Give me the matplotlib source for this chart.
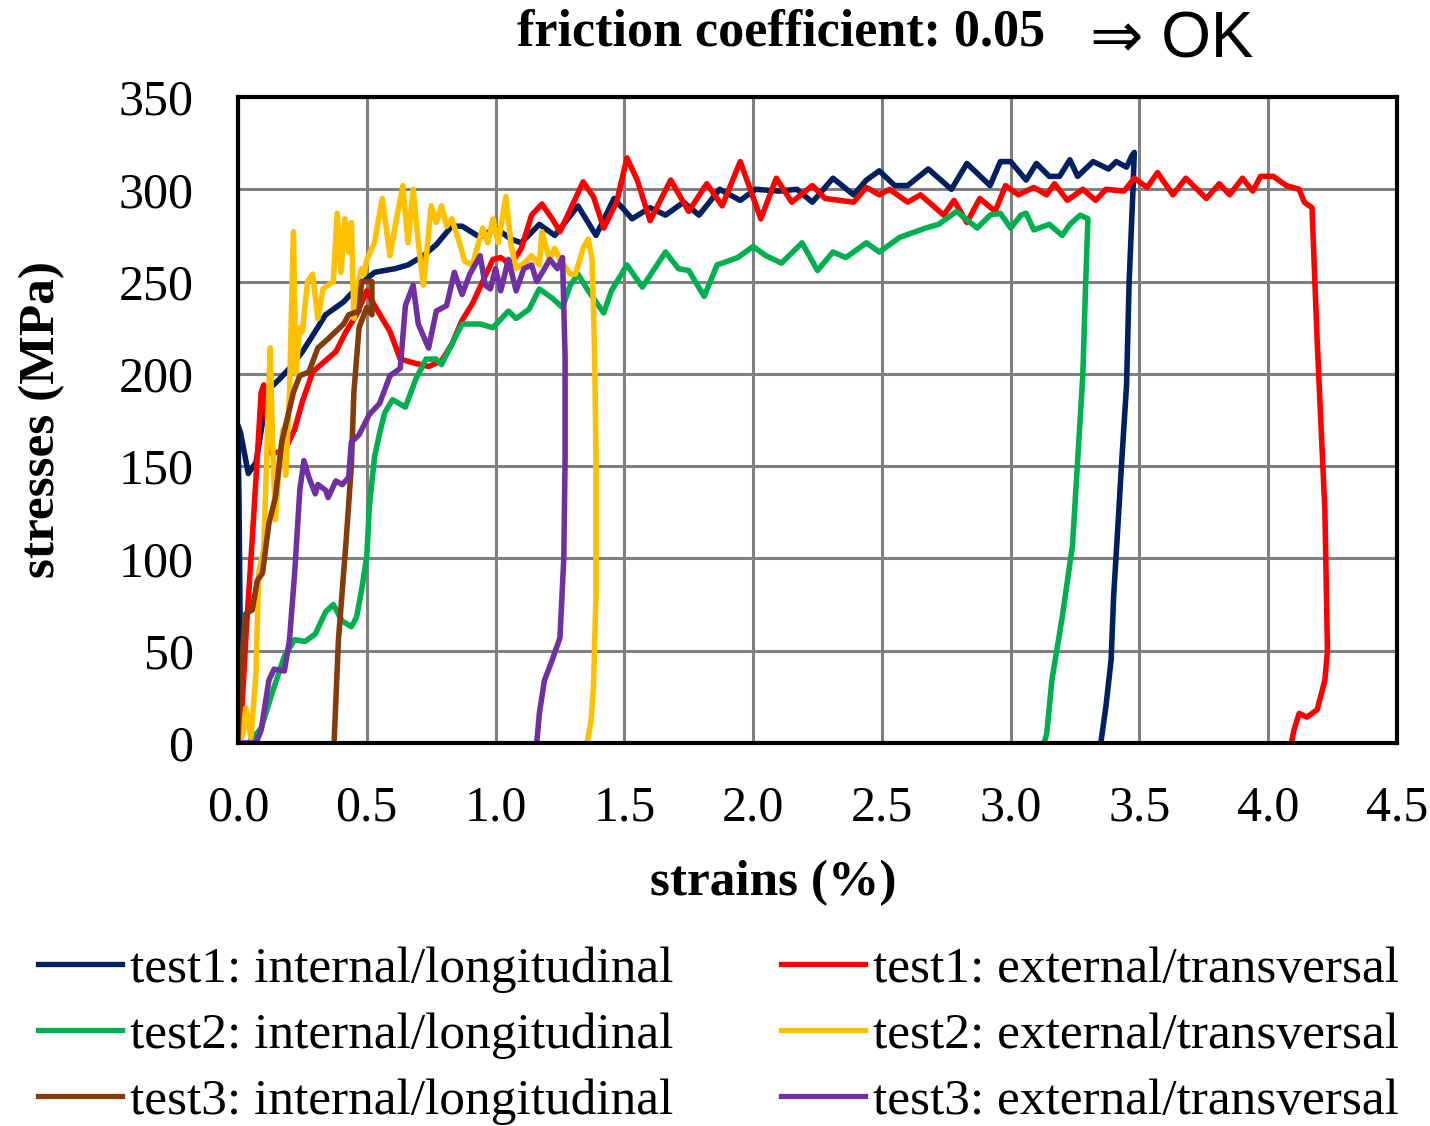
import matplotlib
matplotlib.use("Agg")
import matplotlib.pyplot as plt
from matplotlib.lines import Line2D

# test1 internal/longitudinal
t1_int_x = [0, 0.008, 0.004, 0.0, 0.01, 0.04, 0.07, 0.1, 0.13, 0.16, 0.2, 0.25, 0.3, 0.34, 0.41, 0.47,
            0.53, 0.61, 0.66, 0.72, 0.77, 0.83, 0.87, 0.94, 1.0, 1.06, 1.10, 1.17, 1.23, 1.32, 1.39,
            1.46, 1.53, 1.60, 1.66, 1.73, 1.79, 1.87, 1.95, 2.01, 2.1, 2.17, 2.23, 2.31, 2.39, 2.44,
            2.49, 2.55, 2.6, 2.68, 2.77, 2.83, 2.92, 2.96, 3.0, 3.06, 3.10, 3.15, 3.19, 3.23, 3.26,
            3.32, 3.38, 3.41, 3.45, 3.47, 3.48, 3.475, 3.46, 3.45, 3.43, 3.42, 3.40, 3.39, 3.37, 3.35]
t1_int_y = [0, 70, 130, 172, 168, 146, 152, 178, 193, 197, 203, 212, 223, 232, 239, 248,
            255, 257, 259, 264, 270, 280, 280, 274, 279, 273, 271, 281, 275, 291, 275,
            295, 284, 290, 286, 293, 286, 300, 294, 300, 299, 300, 293, 306, 297, 305,
            310, 302, 302, 311, 300, 314, 302, 315, 315, 305, 314, 307, 307, 316, 307,
            315, 311, 315, 312, 318, 320, 300, 250, 194, 150, 126, 80, 45, 20, 0]

# test1 external/transversal
t1_ext_x = [0, 0.01, 0.03, 0.055, 0.075, 0.09, 0.1, 0.11, 0.13, 0.18, 0.22, 0.25, 0.29, 0.33, 0.38,
            0.42, 0.46, 0.50, 0.53, 0.59, 0.63, 0.68, 0.74, 0.79, 0.83, 0.87, 0.91, 0.95, 0.99,
            1.02, 1.06, 1.10, 1.14, 1.18, 1.22, 1.25, 1.29, 1.34, 1.38, 1.42, 1.47, 1.51, 1.55,
            1.60, 1.68, 1.75, 1.82, 1.88, 1.95, 2.03, 2.09, 2.15, 2.23, 2.28, 2.39, 2.44, 2.49,
            2.53, 2.6, 2.65, 2.74, 2.78, 2.83, 2.88, 2.94, 2.98, 3.03, 3.09, 3.14, 3.17, 3.22,
            3.28, 3.33, 3.37, 3.44, 3.48, 3.53, 3.57, 3.63, 3.68, 3.76, 3.81, 3.85, 3.90, 3.94,
            3.97, 4.02, 4.07, 4.12, 4.14, 4.17, 4.19, 4.22, 4.23, 4.22, 4.19, 4.15, 4.12, 4.10, 4.09]
t1_ext_y = [0, 5, 56, 110, 155, 190, 194, 178, 157, 158, 170, 185, 201, 206, 212,
            223, 232, 245, 237, 223, 208, 206, 204, 207, 216, 229, 238, 250, 262,
            263, 259, 268, 286, 292, 284, 277, 289, 304, 296, 279, 293, 317, 305,
            283, 305, 288, 303, 291, 315, 284, 306, 293, 302, 295, 293, 301, 297,
            300, 293, 297, 286, 294, 282, 295, 288, 302, 297, 301, 297, 303, 294,
            300, 294, 300, 299, 306, 301, 309, 297, 306, 295, 303, 297, 306, 299,
            307, 307, 302, 300, 293, 290, 218, 126, 50, 34, 18, 14, 16, 7, 0]

# test2 internal/longitudinal
t2_int_x = [0, 0.04, 0.09, 0.13, 0.18, 0.22, 0.26, 0.30, 0.34, 0.37, 0.405, 0.44, 0.46, 0.48, 0.50,
            0.51, 0.53, 0.55, 0.57, 0.60, 0.65, 0.69, 0.73, 0.77, 0.79, 0.83, 0.87, 0.94, 0.99,
            1.05, 1.08, 1.13, 1.17, 1.22, 1.26, 1.29, 1.32, 1.36, 1.42, 1.45, 1.51, 1.57, 1.66,
            1.71, 1.75, 1.81, 1.86, 1.94, 2.0, 2.05, 2.11, 2.19, 2.25, 2.31, 2.36, 2.44, 2.49,
            2.57, 2.67, 2.72, 2.79, 2.87, 2.92, 2.96, 3.0, 3.04, 3.06, 3.09, 3.15, 3.2, 3.23,
            3.27, 3.3, 3.29, 3.28, 3.26, 3.24, 3.20, 3.16, 3.14, 3.13]
t2_int_y = [0, 0, 8, 26, 47, 56, 55, 59, 71, 75, 66, 63, 68, 83, 101,
            128, 155, 168, 179, 186, 182, 197, 208, 208, 205, 216, 227, 227, 225,
            234, 230, 235, 246, 241, 236, 248, 254, 245, 233, 245, 259, 247, 266,
            257, 256, 242, 259, 263, 269, 264, 260, 271, 256, 266, 263, 271, 266,
            274, 279, 281, 288, 279, 286, 287, 279, 286, 287, 278, 281, 275, 281,
            286, 284, 244, 199, 153, 107, 68, 34, 5, 0]

# test2 external/transversal
t2_ext_x = [0, 0.02, 0.03, 0.05, 0.07, 0.08, 0.1, 0.115, 0.125, 0.135, 0.145, 0.16, 0.175, 0.185,
            0.2, 0.215, 0.225, 0.24, 0.25, 0.27, 0.29, 0.31, 0.33, 0.35, 0.37, 0.385, 0.40, 0.415,
            0.43, 0.44, 0.45, 0.465, 0.48, 0.49, 0.50, 0.53, 0.56, 0.59, 0.61, 0.64, 0.66, 0.68,
            0.70, 0.72, 0.75, 0.77, 0.79, 0.81, 0.83, 0.86, 0.88, 0.91, 0.95, 0.97, 0.99, 1.01,
            1.04, 1.06, 1.08, 1.12, 1.14, 1.17, 1.18, 1.21, 1.23, 1.25, 1.29, 1.31, 1.34, 1.36,
            1.375, 1.385, 1.39, 1.39, 1.38, 1.37, 1.355]
t2_ext_y = [0, 5, 19, 3, 38, 92, 105, 170, 214, 160, 121, 150, 170, 145,
            190, 277, 200, 225, 223, 250, 254, 230, 246, 248, 250, 287, 255, 284,
            266, 282, 230, 248, 257, 254, 262, 271, 295, 264, 280, 302, 271, 300,
            271, 248, 291, 282, 291, 280, 284, 271, 261, 259, 279, 271, 284, 271,
            296, 270, 257, 261, 264, 259, 277, 262, 268, 262, 254, 254, 268, 273,
            262, 209, 155, 80, 30, 11, 0]

# test3 internal/longitudinal
t3_int_x = [0, 0.01, 0.03, 0.055, 0.075, 0.095, 0.12, 0.145, 0.17, 0.19, 0.215, 0.24, 0.275, 0.31,
            0.35, 0.41, 0.43, 0.47, 0.48, 0.52, 0.52, 0.50, 0.47, 0.45, 0.44, 0.42, 0.39, 0.373]
t3_int_y = [0, 38, 70, 72, 88, 92, 119, 133, 163, 175, 190, 199, 201, 214,
            219, 227, 232, 234, 250, 250, 232, 236, 225, 190, 150, 110, 56, 0]

# test3 external/transversal
t3_ext_x = [0, 0.07, 0.09, 0.12, 0.14, 0.18, 0.20, 0.22, 0.24, 0.256, 0.275, 0.30, 0.31, 0.34, 0.35,
            0.38, 0.405, 0.43, 0.44, 0.47, 0.51, 0.55, 0.59, 0.63, 0.65, 0.68, 0.70, 0.74, 0.77,
            0.81, 0.84, 0.87, 0.90, 0.94, 0.96, 0.98, 1.0, 1.02, 1.05, 1.08, 1.11, 1.14, 1.16,
            1.19, 1.21, 1.24, 1.26, 1.27, 1.27, 1.265, 1.25, 1.22, 1.19, 1.17, 1.16]
t3_ext_y = [0, 0, 7, 34, 40, 39, 56, 92, 137, 153, 144, 135, 140, 137, 133,
            142, 140, 144, 163, 167, 178, 184, 199, 203, 237, 248, 227, 214, 234,
            237, 255, 243, 254, 264, 248, 246, 257, 245, 262, 245, 257, 259, 250,
            257, 262, 257, 263, 209, 155, 100, 57, 45, 34, 16, 0]

labels = ["test1: internal/longitudinal", "test1: external/transversal",
          "test2: internal/longitudinal", "test2: external/transversal",
          "test3: internal/longitudinal", "test3: external/transversal"]
colors = ["#002060", "#FF0000", "#00B050", "#FFC000", "#843C0C", "#7030A0"]
series = [(t1_int_x, t1_int_y), (t1_ext_x, t1_ext_y), (t2_int_x, t2_int_y),
          (t2_ext_x, t2_ext_y), (t3_int_x, t3_int_y), (t3_ext_x, t3_ext_y)]

serif = "Liberation Serif"

fig = plt.figure(figsize=(14.3, 11.26), dpi=100)
ax = fig.add_axes([238 / 1430, 1 - 743 / 1126, (1397 - 238) / 1430, (743 - 97) / 1126])

for (xs, ys), c in zip(series, colors):
    ax.plot(xs, ys, color=c, lw=4.0, solid_joinstyle="round", solid_capstyle="round", zorder=3)

ax.set_xlim(0, 4.5)
ax.set_ylim(0, 350)
ax.set_xticks([i * 0.5 for i in range(10)])
ax.set_yticks(range(0, 351, 50))
ax.set_xticklabels(["%.1f" % (i * 0.5) for i in range(10)])
ax.grid(True, color="#808080", lw=2.2, zorder=1)
ax.set_axisbelow(True)
for s in ax.spines.values():
    s.set_linewidth(3)
    s.set_color("black")
    s.set_zorder(5)
ax.tick_params(axis="both", length=0, labelsize=36)
ax.tick_params(axis="x", pad=30)
ax.tick_params(axis="y", pad=32)
for lab in ax.get_xticklabels() + ax.get_yticklabels():
    lab.set_fontfamily(serif)

fig.text(42 / 1430, 1 - 420 / 1126, "stresses (MPa)", rotation=90, ha="center", va="center",
         fontfamily=serif, fontweight="bold", fontsize=37)
fig.text(773 / 1430, 1 - 883 / 1126, "strains (%)", ha="center", va="center",
         fontfamily=serif, fontweight="bold", fontsize=37)
fig.text(517 / 1430, 1 - 32 / 1126, "friction coefficient: 0.05", ha="left", va="center",
         fontfamily=serif, fontweight="bold", fontsize=37.5)
fig.text(1090 / 1430, 1 - 40 / 1126, "\u21d2 OK", ha="left", va="center",
         fontfamily=["Liberation Sans", "DejaVu Sans"], fontsize=46)

order = [0, 2, 4, 1, 3, 5]
handles = [Line2D([], [], color=colors[i], lw=3.8) for i in order]
fig.legend(handles, [labels[i] for i in order], loc="upper left",
           bbox_to_anchor=(38 / 1430, 1 - 946 / 1126), ncol=2, frameon=False,
           prop={"family": serif, "size": 37}, handlelength=1.63, handletextpad=0.16,
           columnspacing=2.1, labelspacing=0.37, borderpad=0, borderaxespad=0)

fig.savefig("out.png", dpi=100)
